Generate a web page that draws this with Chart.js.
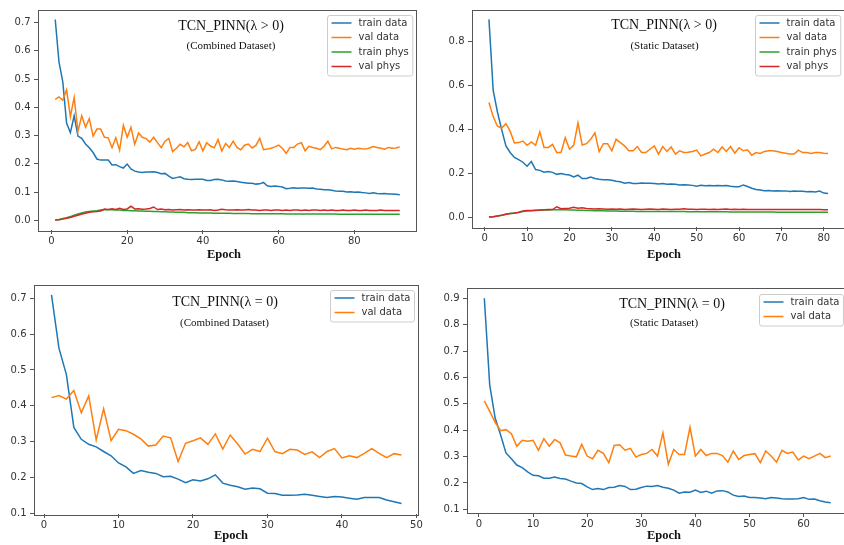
<!DOCTYPE html>
<html>
<head>
<meta charset="utf-8">
<script src="https://cdn.jsdelivr.net/npm/chart.js@4.4.0/dist/chart.umd.min.js"></script>
<style>
  html, body { margin: 0; padding: 0; background: #fff; overflow: hidden; width: 844px; height: 545px; }
  canvas { position: absolute; }
</style>
</head>
<body>
<canvas id="tl" width="425" height="270" style="left:0;top:0"></canvas>
<canvas id="tr" width="430" height="270" style="left:430px;top:0"></canvas>
<canvas id="bl" width="425" height="270" style="left:0;top:275px"></canvas>
<canvas id="br" width="430" height="270" style="left:430px;top:275px"></canvas>
<script>
// ---- data ----
const epochsTL = Array.from({length: 92}, (_, i) => i + 1);
const epochsTR = Array.from({length: 81}, (_, i) => i + 1);
const epochsBL = Array.from({length: 48}, (_, i) => i + 1);
const epochsBR = Array.from({length: 65}, (_, i) => i + 1);

// combined dataset, lambda > 0
const trainDataTL = [0.711,0.56,0.49,0.344,0.31,0.37,0.298,0.29,0.27,0.257,
  0.24,0.217,0.213,0.213,0.213,0.196,0.197,0.19,0.185,0.199,
  0.182,0.174,0.171,0.169,0.171,0.171,0.172,0.169,0.165,0.166,
  0.156,0.148,0.151,0.154,0.147,0.145,0.144,0.145,0.145,0.145,
  0.141,0.141,0.144,0.145,0.143,0.139,0.138,0.139,0.137,0.135,
  0.133,0.131,0.131,0.128,0.129,0.134,0.122,0.12,0.121,0.12,
  0.118,0.112,0.113,0.115,0.113,0.114,0.114,0.113,0.114,0.111,
  0.11,0.108,0.108,0.106,0.104,0.103,0.103,0.1,0.101,0.099,
  0.1,0.098,0.097,0.095,0.097,0.095,0.094,0.095,0.093,0.093,
  0.092,0.09];
const valDataTL = [0.428,0.437,0.425,0.462,0.367,0.435,0.315,0.37,0.33,0.36,
  0.298,0.323,0.323,0.294,0.292,0.257,0.292,0.248,0.336,0.294,
  0.329,0.269,0.309,0.294,0.289,0.277,0.294,0.275,0.257,0.28,
  0.29,0.243,0.255,0.269,0.26,0.275,0.246,0.251,0.278,0.246,
  0.275,0.263,0.257,0.286,0.245,0.272,0.258,0.28,0.258,0.25,
  0.266,0.27,0.256,0.265,0.29,0.25,0.252,0.255,0.26,0.266,
  0.255,0.237,0.258,0.258,0.27,0.275,0.246,0.262,0.258,0.255,
  0.25,0.262,0.28,0.253,0.258,0.255,0.252,0.25,0.255,0.252,
  0.255,0.253,0.252,0.256,0.261,0.258,0.255,0.252,0.258,0.255,
  0.256,0.26];
const trainPhysTL = [0.001,0.003,0.006,0.009,0.013,0.018,0.022,0.026,0.029,0.031,
  0.033,0.034,0.036,0.037,0.037,0.037,0.036,0.036,0.035,0.035,
  0.034,0.034,0.033,0.033,0.032,0.032,0.031,0.031,0.030,0.030,
  0.029,0.029,0.028,0.028,0.028,0.027,0.027,0.027,0.026,0.026,
  0.026,0.026,0.025,0.025,0.025,0.025,0.025,0.024,0.024,0.024,
  0.024,0.024,0.023,0.023,0.023,0.023,0.023,0.023,0.023,0.023,
  0.023,0.022,0.022,0.022,0.022,0.022,0.022,0.022,0.022,0.022,
  0.022,0.022,0.022,0.022,0.022,0.021,0.021,0.021,0.021,0.021,
  0.021,0.021,0.021,0.021,0.021,0.021,0.021,0.021,0.021,0.021,
  0.021,0.021];
const valPhysTL = [0.001,0.002,0.004,0.007,0.01,0.014,0.018,0.022,0.025,0.028,
  0.03,0.031,0.033,0.04,0.038,0.041,0.038,0.042,0.038,0.04,
  0.05,0.04,0.041,0.039,0.04,0.042,0.047,0.038,0.04,0.037,
  0.038,0.036,0.037,0.038,0.036,0.037,0.036,0.036,0.037,0.036,
  0.036,0.037,0.035,0.036,0.039,0.037,0.036,0.036,0.037,0.036,
  0.036,0.038,0.036,0.036,0.035,0.036,0.036,0.035,0.036,0.036,
  0.035,0.036,0.035,0.036,0.036,0.035,0.036,0.035,0.036,0.036,
  0.035,0.036,0.035,0.036,0.035,0.035,0.036,0.035,0.035,0.036,
  0.035,0.035,0.036,0.035,0.035,0.035,0.036,0.035,0.035,0.035,
  0.035,0.035];

// static dataset, lambda > 0
const trainDataTR = [0.90,0.578,0.48,0.40,0.326,0.296,0.274,0.264,0.252,0.234,
  0.255,0.219,0.215,0.207,0.21,0.206,0.197,0.201,0.196,0.194,
  0.185,0.193,0.178,0.178,0.185,0.178,0.175,0.173,0.173,0.17,
  0.166,0.163,0.157,0.16,0.156,0.156,0.158,0.157,0.157,0.156,
  0.153,0.155,0.152,0.153,0.152,0.149,0.15,0.149,0.147,0.143,
  0.148,0.145,0.146,0.145,0.146,0.145,0.146,0.143,0.141,0.141,
  0.149,0.142,0.134,0.128,0.126,0.123,0.124,0.122,0.123,0.121,
  0.122,0.119,0.121,0.12,0.12,0.118,0.119,0.117,0.121,0.112,
  0.11];
const valDataTR = [0.523,0.459,0.415,0.407,0.427,0.393,0.339,0.341,0.348,0.329,
  0.344,0.329,0.39,0.319,0.319,0.333,0.296,0.296,0.363,0.311,
  0.33,0.43,0.33,0.336,0.356,0.385,0.30,0.336,0.336,0.304,
  0.356,0.341,0.326,0.304,0.304,0.323,0.296,0.296,0.311,0.326,
  0.289,0.323,0.301,0.321,0.289,0.304,0.296,0.297,0.301,0.307,
  0.281,0.289,0.296,0.311,0.296,0.321,0.301,0.323,0.293,0.318,
  0.304,0.308,0.284,0.296,0.292,0.301,0.304,0.304,0.301,0.296,
  0.293,0.289,0.289,0.307,0.296,0.296,0.292,0.296,0.296,0.293,
  0.292];
const trainPhysTR = [0.003,0.005,0.008,0.011,0.016,0.019,0.022,0.024,0.028,0.031,
  0.032,0.033,0.034,0.035,0.035,0.036,0.036,0.036,0.036,0.035,
  0.035,0.034,0.034,0.033,0.033,0.032,0.032,0.032,0.031,0.031,
  0.031,0.030,0.030,0.030,0.030,0.029,0.029,0.029,0.029,0.029,
  0.028,0.028,0.028,0.028,0.028,0.028,0.028,0.027,0.027,0.027,
  0.027,0.027,0.027,0.027,0.027,0.027,0.027,0.026,0.026,0.026,
  0.026,0.026,0.026,0.026,0.026,0.026,0.026,0.026,0.025,0.025,
  0.025,0.025,0.025,0.025,0.025,0.025,0.025,0.025,0.025,0.025,
  0.025];
const valPhysTR = [0.003,0.005,0.008,0.011,0.016,0.019,0.021,0.025,0.031,0.033,
  0.033,0.034,0.035,0.036,0.037,0.037,0.05,0.041,0.042,0.043,
  0.048,0.043,0.045,0.042,0.041,0.04,0.041,0.04,0.039,0.04,
  0.039,0.04,0.038,0.039,0.04,0.039,0.038,0.039,0.04,0.039,
  0.038,0.04,0.039,0.038,0.039,0.039,0.041,0.039,0.039,0.038,
  0.039,0.039,0.038,0.039,0.038,0.039,0.04,0.038,0.039,0.038,
  0.039,0.038,0.037,0.038,0.038,0.037,0.038,0.038,0.037,0.038,
  0.037,0.038,0.037,0.037,0.038,0.037,0.037,0.038,0.037,0.036,
  0.036];

// combined dataset, lambda = 0
const trainDataBL = [0.709,0.561,0.487,0.34,0.307,0.293,0.286,0.273,0.261,0.241,
  0.23,0.212,0.22,0.215,0.212,0.203,0.204,0.196,0.186,0.194,
  0.191,0.197,0.208,0.185,0.179,0.175,0.168,0.171,0.169,0.157,
  0.156,0.151,0.151,0.152,0.154,0.151,0.148,0.145,0.148,0.146,
  0.143,0.14,0.145,0.145,0.145,0.138,0.133,0.128];
const valDataBL = [0.423,0.429,0.419,0.443,0.381,0.428,0.305,0.392,0.303,0.335,
  0.331,0.321,0.308,0.288,0.291,0.316,0.311,0.245,0.296,0.303,
  0.311,0.293,0.322,0.28,0.319,0.294,0.266,0.279,0.273,0.31,
  0.273,0.267,0.279,0.277,0.265,0.272,0.256,0.273,0.281,0.255,
  0.261,0.256,0.268,0.281,0.268,0.256,0.267,0.263];

// static dataset, lambda = 0
const trainDataBR = [0.9,0.571,0.446,0.383,0.314,0.292,0.268,0.258,0.242,0.229,
  0.227,0.218,0.218,0.223,0.217,0.215,0.207,0.2,0.198,0.185,
  0.175,0.179,0.175,0.183,0.184,0.19,0.187,0.175,0.176,0.183,
  0.188,0.187,0.19,0.184,0.18,0.173,0.161,0.166,0.165,0.173,
  0.164,0.169,0.161,0.17,0.171,0.166,0.154,0.149,0.151,0.145,
  0.145,0.143,0.14,0.145,0.143,0.14,0.139,0.139,0.14,0.145,
  0.138,0.139,0.133,0.128,0.125];
const valDataBR = [0.511,0.471,0.43,0.398,0.402,0.387,0.339,0.362,0.358,0.362,
  0.324,0.368,0.339,0.365,0.352,0.306,0.302,0.299,0.346,0.302,
  0.292,0.324,0.312,0.277,0.342,0.345,0.324,0.331,0.298,0.308,
  0.312,0.327,0.302,0.39,0.271,0.327,0.308,0.308,0.411,0.302,
  0.327,0.304,0.312,0.312,0.304,0.279,0.321,0.289,0.304,0.308,
  0.311,0.277,0.321,0.302,0.279,0.324,0.312,0.317,0.287,0.302,
  0.292,0.302,0.312,0.296,0.302];

const xTicksTL = [0, 20, 40, 60, 80];
const yTicksTL = [0, 0.1, 0.2, 0.3, 0.4, 0.5, 0.6, 0.7];
const xTicksTR = [0, 10, 20, 30, 40, 50, 60, 70, 80];
const yTicksTR = [0, 0.2, 0.4, 0.6, 0.8];
const xTicksBL = [0, 10, 20, 30, 40, 50];
const yTicksBL = [0.1, 0.2, 0.3, 0.4, 0.5, 0.6, 0.7];
const xTicksBR = [0, 10, 20, 30, 40, 50, 60];
const yTicksBR = [0.1, 0.2, 0.3, 0.4, 0.5, 0.6, 0.7, 0.8, 0.9];

// ---- look ----
const BLUE = '#1f77b4', ORANGE = '#ff7f0e', GREEN = '#2ca02c', RED = '#d62728';
const SPINE = '#555', INK = '#333';
Chart.defaults.font.family = '"DejaVu Sans"';

// full box around the plot area, like matplotlib spines
const frame = {
  id: 'frame',
  afterDatasetsDraw(chart) {
    const {ctx, chartArea: a} = chart;
    ctx.save();
    ctx.strokeStyle = SPINE;
    ctx.lineWidth = 1;
    ctx.strokeRect(Math.round(a.left) + 0.5, Math.round(a.top) + 0.5,
      Math.round(a.right - a.left) - 1, Math.round(a.bottom - a.top));
    ctx.restore();
  }
};

// in-plot title, subtitle and the bold x label
const notes = {
  id: 'notes',
  afterDraw(chart, args, o) {
    const ctx = chart.ctx;
    ctx.save();
    ctx.fillStyle = '#111';
    ctx.textAlign = 'center';
    ctx.textBaseline = 'alphabetic';
    ctx.font = '14px "Liberation Serif"';
    ctx.fillText(o.title, o.titleAt[0], o.titleAt[1]);
    ctx.font = '11px "Liberation Serif"';
    ctx.fillText(o.sub, o.subAt[0], o.subAt[1]);
    ctx.font = 'bold 12.5px "Liberation Serif"';
    ctx.fillText('Epoch', o.labelAt[0], o.labelAt[1]);
    ctx.restore();
  }
};

// matplotlib-style legend box in the upper right corner
const boxLegend = {
  id: 'boxLegend',
  afterDraw(chart) {
    const {ctx, chartArea: a} = chart;
    const sets = chart.data.datasets;
    ctx.save();
    ctx.font = '10px "DejaVu Sans"';
    const textW = Math.max(...sets.map(d => ctx.measureText(d.label).width));
    const rowH = 14.5;
    const w = 4 + 20 + 7 + textW + 4;
    const h = sets.length * rowH + 2.5;
    const x0 = Math.round(a.right - 5 - w) + 0.5;
    const y0 = Math.round(a.top + 5.5) + 0.5;
    ctx.fillStyle = 'rgba(255,255,255,0.8)';
    ctx.strokeStyle = '#ccc';
    ctx.lineWidth = 1;
    ctx.beginPath();
    ctx.roundRect(x0, y0, w, h, 2.5);
    ctx.fill();
    ctx.stroke();
    ctx.textBaseline = 'middle';
    sets.forEach((d, i) => {
      const yy = y0 + 7.5 + i * rowH;
      ctx.strokeStyle = d.borderColor;
      ctx.lineWidth = 1.5;
      ctx.beginPath();
      ctx.moveTo(x0 + 4, yy);
      ctx.lineTo(x0 + 24, yy);
      ctx.stroke();
      ctx.fillStyle = INK;
      ctx.fillText(d.label, x0 + 31, yy);
    });
    ctx.restore();
  }
};

// 5% autoscale margin as matplotlib does
function padRange(lists) {
  const all = lists.flat();
  const lo = Math.min(...all), hi = Math.max(...all);
  const m = (hi - lo) * 0.05;
  return [lo - m, hi + m];
}

function panel(id, epochs, series, xTicks, yTicks, geo, text) {
  const [xmin, xmax] = padRange([epochs]);
  const [ymin, ymax] = padRange(series.map(s => s.values));
  new Chart(document.getElementById(id), {
    type: 'line',
    data: {
      datasets: series.map((s, i) => ({
        label: s.label,
        data: s.values.map((v, j) => ({x: epochs[j], y: v})),
        borderColor: s.color,
        borderWidth: 1.5,
        pointRadius: 0,
        tension: 0,
        fill: false,
        order: -i
      }))
    },
    options: {
      responsive: false,
      animation: false,
      events: [],
      layout: {padding: {top: geo.top, right: geo.right, bottom: 0, left: 0}},
      scales: {
        x: {
          type: 'linear', min: xmin, max: xmax,
          afterBuildTicks: s => { s.ticks = xTicks.map(v => ({value: v})); },
          afterFit: s => { s.height = geo.xh; },
          grid: {drawOnChartArea: false, tickLength: 4, color: SPINE},
          border: {display: false},
          ticks: {autoSkip: false, maxRotation: 0, padding: 1, color: INK,
                  font: {size: 10}, callback: v => String(v)}
        },
        y: {
          min: ymin, max: ymax,
          afterBuildTicks: s => { s.ticks = yTicks.map(v => ({value: v})); },
          afterFit: s => { s.width = geo.yw; },
          grid: {drawOnChartArea: false, tickLength: 4, color: SPINE},
          border: {display: false},
          ticks: {autoSkip: false, padding: 3.5, color: INK,
                  font: {size: 10}, callback: v => v.toFixed(1)}
        }
      },
      plugins: {legend: {display: false}, tooltip: {enabled: false}, notes: text}
    },
    plugins: [frame, notes, boxLegend]
  });
}

panel('tl', epochsTL, [
  {label: 'train data', values: trainDataTL, color: BLUE},
  {label: 'val data', values: valDataTL, color: ORANGE},
  {label: 'train phys', values: trainPhysTL, color: GREEN},
  {label: 'val phys', values: valPhysTL, color: RED}
], xTicksTL, yTicksTL, {top: 6, right: 8, xh: 40, yw: 38},
  {title: 'TCN_PINN(λ > 0)', titleAt: [231, 29.5], sub: '(Combined Dataset)', subAt: [231, 49], labelAt: [224, 257.5]});

panel('tr', epochsTR, [
  {label: 'train data', values: trainDataTR, color: BLUE},
  {label: 'val data', values: valDataTR, color: ORANGE},
  {label: 'train phys', values: trainPhysTR, color: GREEN},
  {label: 'val phys', values: valPhysTR, color: RED}
], xTicksTR, yTicksTR, {top: 6, right: 15, xh: 43, yw: 42},
  {title: 'TCN_PINN(λ > 0)', titleAt: [234, 29], sub: '(Static Dataset)', subAt: [234.5, 49], labelAt: [234, 257.5]});

panel('bl', epochsBL, [
  {label: 'train data', values: trainDataBL, color: BLUE},
  {label: 'val data', values: valDataBL, color: ORANGE}
], xTicksBL, yTicksBL, {top: 9, right: 6, xh: 31, yw: 34},
  {title: 'TCN_PINN(λ = 0)', titleAt: [225, 31], sub: '(Combined Dataset)', subAt: [224.5, 51], labelAt: [231, 263.5]});

panel('br', epochsBR, [
  {label: 'train data', values: trainDataBR, color: BLUE},
  {label: 'val data', values: valDataBR, color: ORANGE}
], xTicksBR, yTicksBR, {top: 13, right: 12, xh: 32, yw: 37},
  {title: 'TCN_PINN(λ = 0)', titleAt: [242, 32.5], sub: '(Static Dataset)', subAt: [234, 51], labelAt: [234, 263.5]});
</script>
</body>
</html>
